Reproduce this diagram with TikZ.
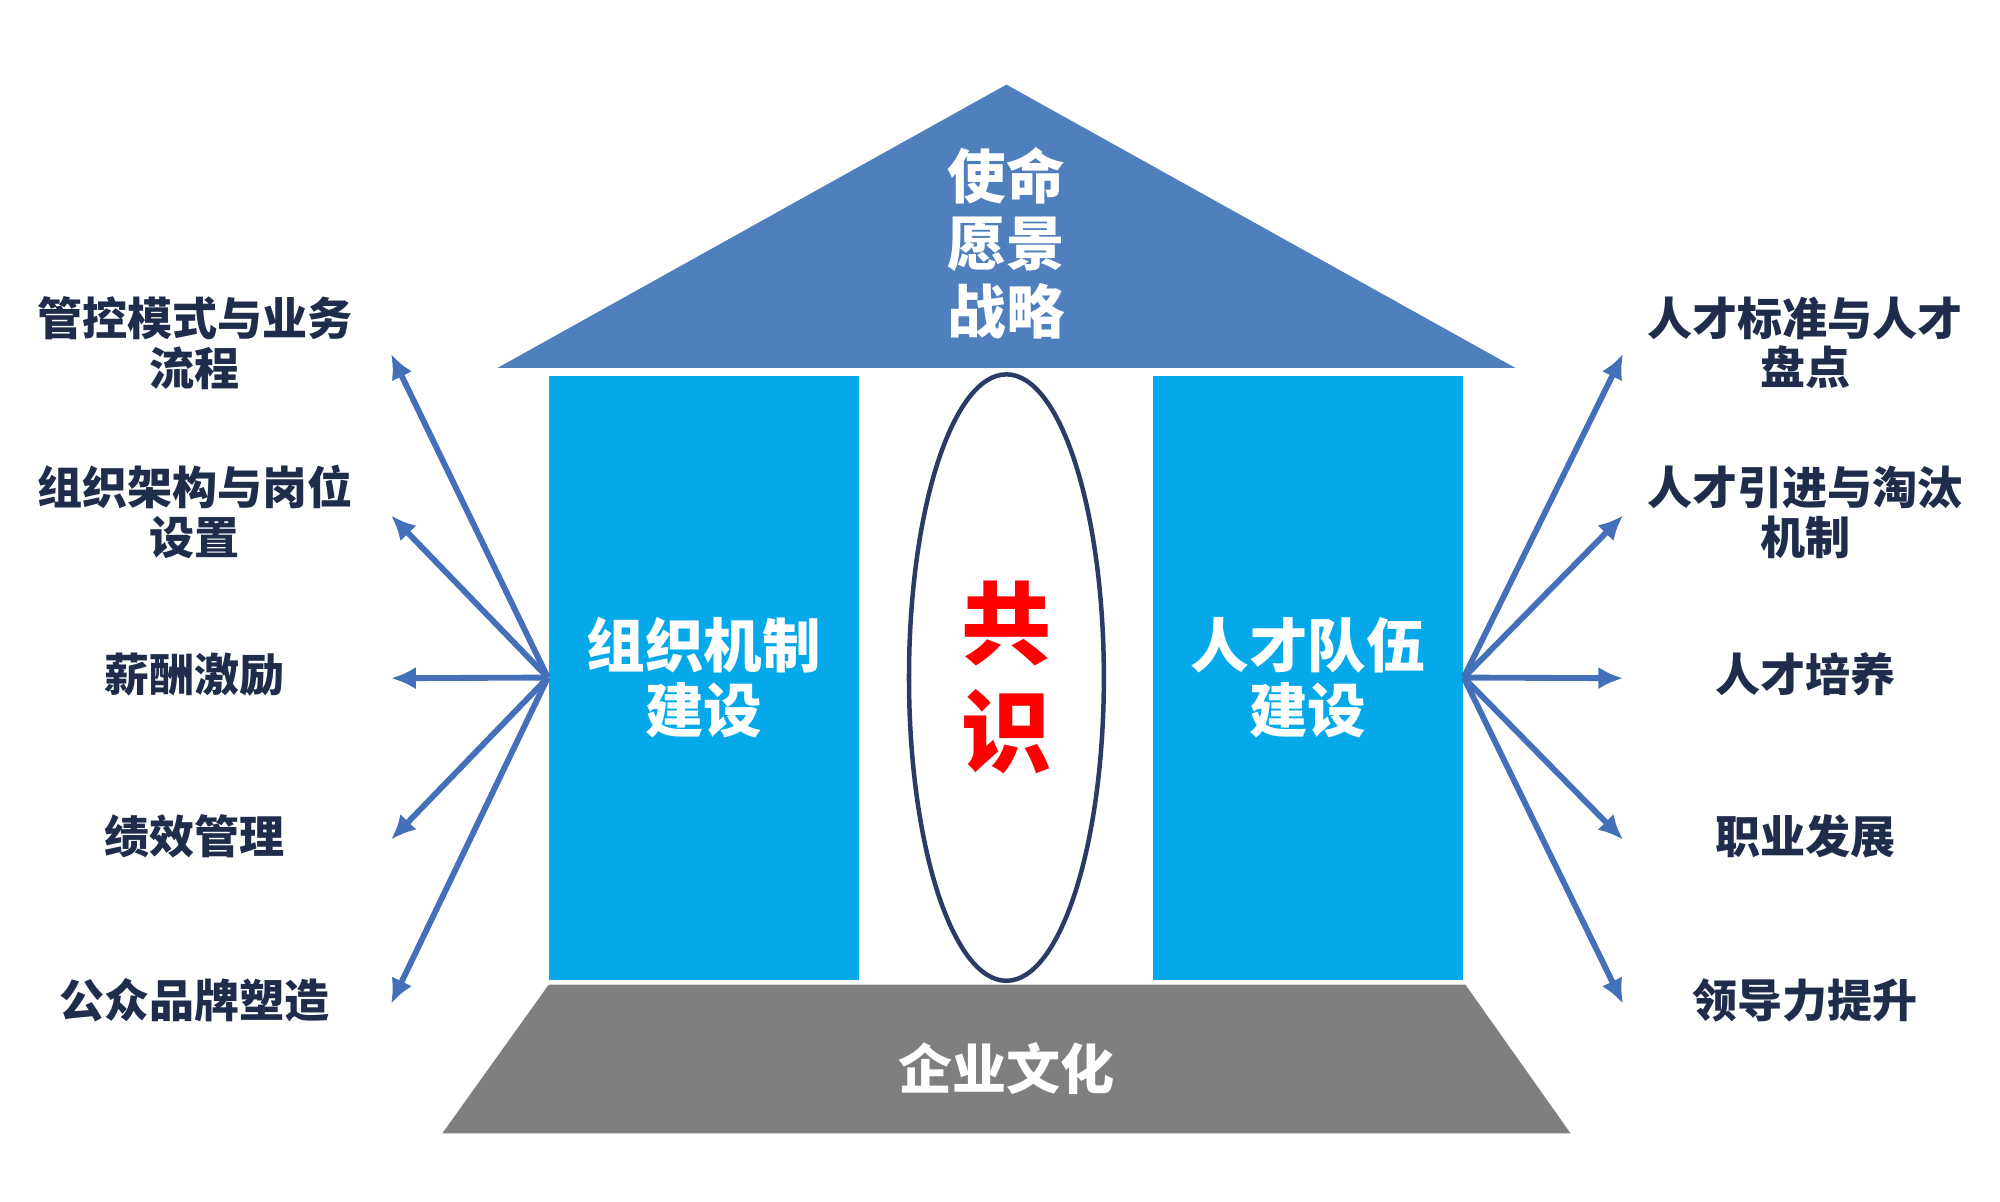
\documentclass[tikz,border=0pt]{standalone}
\usepackage{fontspec}
\setmainfont{Noto Sans CJK SC}
\usepackage{tikz}
\usetikzlibrary{positioning,shapes.geometric,arrows.meta}
\definecolor{roofblue}{HTML}{4F80BD}
\definecolor{pillarblue}{HTML}{05A9EA}
\definecolor{basegray}{HTML}{7F7F7F}
\definecolor{navy}{HTML}{1F2C4C}
\definecolor{linkblue}{HTML}{4470BA}
\definecolor{ringnavy}{HTML}{2C3A66}
\tikzstyle{pillar}=[fill=pillarblue,minimum width=2.42cm,minimum height=4.71cm,text=white,font=\fontsize{13}{14.5}\selectfont\bfseries,align=center,inner sep=0pt]
\tikzstyle{item}=[text=navy,font=\fontsize{10}{11}\selectfont\bfseries,align=center,inner sep=0pt]
\tikzstyle{link}=[-{Latex[length=5.5pt,width=5pt]},line width=1.3pt,draw=linkblue]

\begin{document}
\begin{tikzpicture}
\useasboundingbox (0,0) rectangle (15.6,9.375);
\fill[roofblue] (3.88,6.505) -- (7.85,8.715) -- (11.82,6.505) -- cycle;
\fill[basegray] (4.28,1.695) -- (11.43,1.695) -- (12.25,0.535) -- (3.45,0.535) -- cycle;

\node (mission) [text=white,font=\fontsize{13}{15}\selectfont\bfseries,align=center] at (7.85,7.48) {使命\\愿景\\战略};
\node (org) [pillar] at (5.49,4.09) {组织机制\\建设};
\node (talent) [pillar] at (10.2,4.09) {人才队伍\\建设};
\node (consensus) [ellipse,draw=ringnavy,line width=1pt,minimum width=1.52cm,minimum height=4.73cm,text=red,font=\fontsize{20}{24}\selectfont\bfseries,align=center] at (7.85,4.09) {共\\识};
\node (culture) [text=white,font=\fontsize{12}{12}\selectfont\bfseries] at (7.85,1.04) {企业文化};

\node (control) [item] at (1.52,6.70) {管控模式与业务\\流程};
\node (struct) [item] at (1.52,5.38) {组织架构与岗位\\设置};
\node (pay) [item] at (1.52,4.115) {薪酬激励};
\node (perf) [item] at (1.52,2.855) {绩效管理};
\node (brand) [item] at (1.52,1.575) {公众品牌塑造};

\node (standard) [item] at (14.08,6.70) {人才标准与人才\\盘点};
\node (intro) [item] at (14.08,5.38) {人才引进与淘汰\\机制};
\node (train) [item] at (14.08,4.115) {人才培养};
\node (career) [item] at (14.08,2.855) {职业发展};
\node (lead) [item] at (14.08,1.575) {领导力提升};

\coordinate (l1) at (3.05,6.615);
\coordinate (l2) at (3.05,5.355);
\coordinate (l3) at (3.05,4.085);
\coordinate (l4) at (3.05,2.825);
\coordinate (l5) at (3.05,1.545);
\coordinate (r1) at (12.66,6.615);
\coordinate (r2) at (12.66,5.355);
\coordinate (r3) at (12.66,4.085);
\coordinate (r4) at (12.66,2.825);
\coordinate (r5) at (12.66,1.545);

\draw[link] (org.west) -- (l1);
\draw[link] (org.west) -- (l2);
\draw[link] (org.west) -- (l3);
\draw[link] (org.west) -- (l4);
\draw[link] (org.west) -- (l5);
\draw[link] (talent.east) -- (r1);
\draw[link] (talent.east) -- (r2);
\draw[link] (talent.east) -- (r3);
\draw[link] (talent.east) -- (r4);
\draw[link] (talent.east) -- (r5);
\end{tikzpicture}
\end{document}
